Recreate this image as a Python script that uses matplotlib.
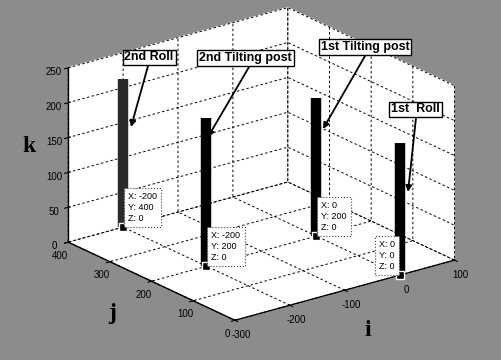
import matplotlib
matplotlib.use("Agg")
import matplotlib.pyplot as plt
from mpl_toolkits.mplot3d import proj3d

# Support locations (i, j) and the height k of each column
names = ["1st  Roll", "1st Tilting post", "2nd Tilting post", "2nd Roll"]
pos_i = [0, 0, -200, -200]
pos_j = [0, 200, 200, 400]
heights = [190, 198, 212, 212]
col_colors = ["black", "black", "black", "#2b2b2b"]

i_ticks = [-300, -200, -100, 0, 100]
j_ticks = [0, 100, 200, 300, 400]
k_ticks = [0, 50, 100, 150, 200, 250]

# Callout boxes (figure pixels from top-left): text centre, arrow start, arrow tip
label_xy = [(415.5, 109.5), (365, 47), (245.5, 58), (149, 57.5)]
arrow_from = [(416, 118), (365, 56), (249, 67), (148, 66)]
arrow_to = [(408, 192), (323, 129), (208, 137), (131, 127)]

W, H = 501, 360

plt.rcParams["font.family"] = ["Liberation Sans", "DejaVu Sans"]
plt.rcParams["axes.unicode_minus"] = False
plt.rcParams["grid.color"] = "black"
plt.rcParams["grid.linestyle"] = (0, (2.5, 2.5))
plt.rcParams["grid.linewidth"] = 0.7

fig = plt.figure(figsize=(W / 100, H / 100), dpi=100, facecolor="#8c8c8c")
ax = fig.add_axes([0.012, 0.031, 1.0, 1.0], projection="3d", proj_type="ortho")
ax.set_facecolor("none")
ax.computed_zorder = False
ax.view_init(elev=21, azim=-127.4)
ax.set_box_aspect((1.48, 1.47, 1.0), zoom=1.165)

ax.set_xlim(-300, 100, view_margin=0)
ax.set_ylim(0, 400, view_margin=0)
ax.set_zlim(0, 250, view_margin=0)
ax.set_xticks(i_ticks)
ax.set_yticks(j_ticks)
ax.set_zticks(k_ticks)
ax.tick_params(labelsize=7, pad=-3)

for axis in (ax.xaxis, ax.yaxis, ax.zaxis):
    axis.set_pane_color((1, 1, 1, 1))
    axis.pane.set_edgecolor("white")
    axis.line.set_color("black")
    axis.line.set_linewidth(1.0)

# Columns with a square marker at the base
for i, j, h, c in zip(pos_i, pos_j, heights, col_colors):
    ax.plot([i, i], [j, j], [0, h], color=c, lw=7.5, solid_capstyle="butt", zorder=3)
for i, j in zip(pos_i, pos_j):
    ax.plot([i], [j], [0], marker="s", ms=6, mfc="black", mec="white", mew=1.0,
            ls="none", zorder=4)

# Data tips anchored at the projected base points
fig.canvas.draw()
M = ax.get_proj()
for n, (i, j) in enumerate(zip(pos_i, pos_j)):
    xp, yp, _ = proj3d.proj_transform(i, j, 0, M)
    right = n > 0
    ax.annotate(f"X: {i}\nY: {j}\nZ: 0", xy=(xp, yp), xycoords="data",
                xytext=(5 if right else -5, 4), textcoords="offset pixels",
                ha="left" if right else "right", va="bottom", fontsize=6.5,
                linespacing=1.3, zorder=6,
                bbox=dict(boxstyle="square,pad=0.45", fc="white", ec="#444444",
                          ls=":", lw=0.8))

# Named callouts with arrows
for name, (tx, ty), (ax0, ay0), (ax1, ay1) in zip(names, label_xy, arrow_from, arrow_to):
    ax.annotate("", xy=(ax1, H - ay1), xycoords="figure pixels",
                xytext=(ax0, H - ay0), textcoords="figure pixels",
                arrowprops=dict(arrowstyle="-|>", color="black", lw=1.3,
                                mutation_scale=9, shrinkA=0, shrinkB=0), zorder=7)
    fig.text(tx / W, 1 - ty / H, name, ha="center", va="center", fontsize=9,
             fontweight="bold", zorder=8,
             bbox=dict(boxstyle="square,pad=0.15", fc="white", ec="black", lw=1.0))

# Axis names
axis_font = dict(family="Liberation Serif", fontweight="bold", fontsize=17,
                 ha="center", va="center")
fig.text(29 / W, 1 - 147 / H, "k", **axis_font)
fig.text(112 / W, 1 - 314 / H, "j", **axis_font)
fig.text(368 / W, 1 - 330 / H, "i", **axis_font)

fig.savefig("out.png", dpi=100, facecolor=fig.get_facecolor())
